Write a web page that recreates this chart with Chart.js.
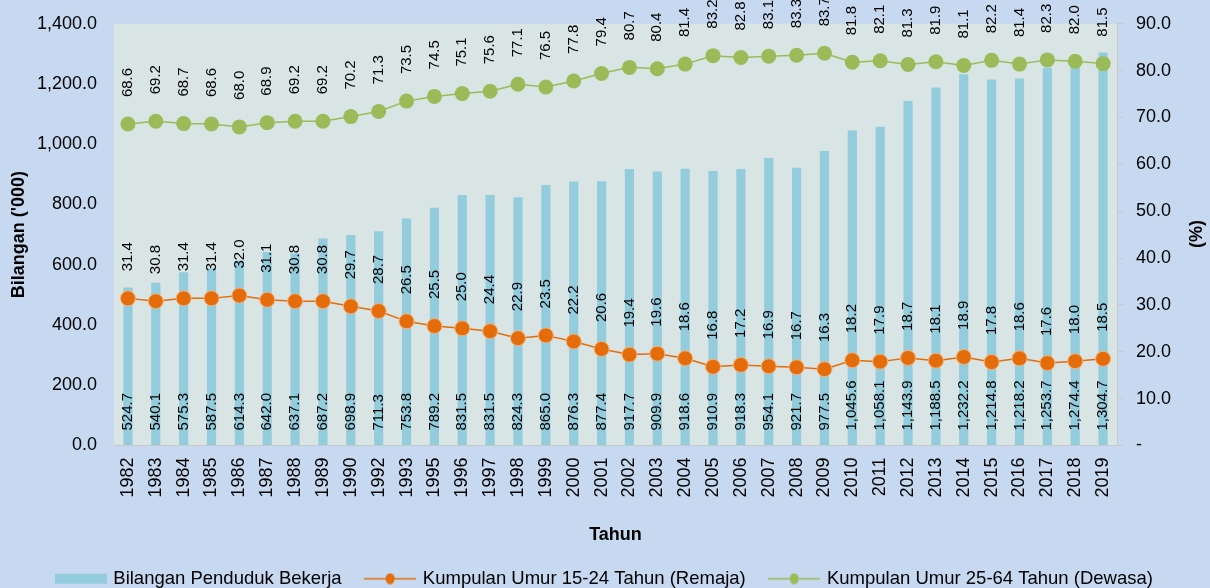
<!DOCTYPE html>
<html>
<head>
<meta charset="utf-8">
<script src="https://cdn.jsdelivr.net/npm/chart.js@4"></script>
<style>
  html, body { margin: 0; padding: 0; background: #C6D9F0; overflow: hidden; }
  #wrap { position: relative; width: 1210px; height: 600px; }
</style>
</head>
<body>
<div id="wrap"><canvas id="chart"></canvas></div>
<script>
// data
const years = ['1982','1983','1984','1985','1986','1987','1988','1989','1990','1992','1993','1995','1996','1997','1998','1999','2000','2001','2002','2003','2004','2005','2006','2007','2008','2009','2010','2011','2012','2013','2014','2015','2016','2017','2018','2019'];
const bekerja = [524.7,540.1,575.3,587.5,614.3,642.0,637.1,687.2,698.9,711.3,753.8,789.2,831.5,831.5,824.3,865.0,876.3,877.4,917.7,909.9,918.6,910.9,918.3,954.1,921.7,977.5,1045.6,1058.1,1143.9,1188.5,1232.2,1214.8,1218.2,1253.7,1274.4,1304.7];
const remaja = [31.4,30.8,31.4,31.4,32.0,31.1,30.8,30.8,29.7,28.7,26.5,25.5,25.0,24.4,22.9,23.5,22.2,20.6,19.4,19.6,18.6,16.8,17.2,16.9,16.7,16.3,18.2,17.9,18.7,18.1,18.9,17.8,18.6,17.6,18.0,18.5];
const dewasa = [68.6,69.2,68.7,68.6,68.0,68.9,69.2,69.2,70.2,71.3,73.5,74.5,75.1,75.6,77.1,76.5,77.8,79.4,80.7,80.4,81.4,83.2,82.8,83.1,83.3,83.7,81.8,82.1,81.3,81.9,81.1,82.2,81.4,82.3,82.0,81.5];

const FONT = "'Liberation Sans', Arial, sans-serif";
const BAR = '#93CDDD', ORANGE = '#E46C0A', GREEN = '#9BBB59';

const fmt1 = v => v.toLocaleString('en-US', {minimumFractionDigits: 1, maximumFractionDigits: 1});

// small legend symbols
function legendIcon(kind, color) {
  const c = document.createElement('canvas');
  c.width = 52; c.height = 12;
  const g = c.getContext('2d');
  if (kind === 'bar') {
    g.fillStyle = color;
    g.fillRect(0, 1, 52, 10);
  } else {
    g.strokeStyle = color; g.lineWidth = 1.5;
    g.beginPath(); g.moveTo(0, 6); g.lineTo(52, 6); g.stroke();
    g.fillStyle = color;
    g.beginPath(); g.ellipse(26, 6, 4.5, 5.5, 0, 0, Math.PI * 2); g.fill();
  }
  return c;
}
const icons = [legendIcon('bar', BAR), legendIcon('line', ORANGE), legendIcon('line', GREEN)];

// plot background
const plotBg = {
  id: 'plotBg',
  beforeDraw(chart) {
    const {ctx, chartArea: a} = chart;
    ctx.save();
    ctx.fillStyle = '#D8E5E4';
    ctx.fillRect(a.left, a.top, a.right - a.left, a.bottom - a.top);
    ctx.restore();
  }
};

// rotated value labels + right axis title
const valueLabels = {
  id: 'valueLabels',
  afterDatasetsDraw(chart) {
    const {ctx, chartArea: a} = chart;
    ctx.save();
    ctx.fillStyle = '#000';
    ctx.font = '15px ' + FONT;
    ctx.textAlign = 'left';
    ctx.textBaseline = 'middle';
    chart.data.datasets.forEach((ds, i) => {
      const meta = chart.getDatasetMeta(i);
      meta.data.forEach((el, j) => {
        let y;
        if (ds.type === 'bar') y = a.bottom - 15;
        else y = el.y - 27;
        ctx.save();
        ctx.translate(el.x, y);
        ctx.rotate(-Math.PI / 2);
        ctx.fillText(fmt1(ds.data[j]), 0, 0);
        ctx.restore();
      });
    });
    // (%) title
    ctx.font = 'bold 18px ' + FONT;
    ctx.textAlign = 'center';
    ctx.translate(1197, 234);
    ctx.rotate(-Math.PI / 2);
    ctx.fillText('(%)', 0, 0);
    ctx.restore();
  }
};

new Chart(document.getElementById('chart'), {
  data: {
    labels: years,
    datasets: [
      {
        type: 'bar',
        label: 'Bilangan Penduduk Bekerja',
        data: bekerja,
        backgroundColor: BAR,
        yAxisID: 'y',
        barPercentage: 0.33,
        categoryPercentage: 1,
        order: 2
      },
      {
        type: 'line',
        label: 'Kumpulan Umur 15-24 Tahun (Remaja)',
        data: remaja,
        borderColor: ORANGE,
        borderWidth: 1.5,
        backgroundColor: ORANGE,
        pointBackgroundColor: ORANGE,
        pointBorderColor: '#F7B27A',
        pointBorderWidth: 1,
        pointRadius: 7.5,
        yAxisID: 'y1',
        order: 1
      },
      {
        type: 'line',
        label: 'Kumpulan Umur 25-64 Tahun (Dewasa)',
        data: dewasa,
        borderColor: GREEN,
        borderWidth: 1.5,
        backgroundColor: GREEN,
        pointBackgroundColor: GREEN,
        pointBorderColor: GREEN,
        pointBorderWidth: 0,
        pointRadius: 7.5,
        yAxisID: 'y1',
        order: 1
      }
    ]
  },
  options: {
    responsive: true,
    maintainAspectRatio: false,
    animation: false,
    layout: { padding: { top: 23, left: 0, right: 0, bottom: 2 } },
    plugins: {
      tooltip: { enabled: false },
      legend: {
        position: 'bottom',
        labels: {
          usePointStyle: true,
          pointStyleWidth: 47,
          boxHeight: 12,
          padding: 25,
          color: '#000',
          font: { family: FONT, size: 18.5 },
          sort: (a, b) => a.datasetIndex - b.datasetIndex,
          generateLabels(chart) {
            const items = Chart.defaults.plugins.legend.labels.generateLabels(chart);
            items.forEach(it => { it.pointStyle = icons[it.datasetIndex]; });
            return items;
          }
        }
      }
    },
    scales: {
      x: {
        grid: { display: false, drawTicks: false },
        border: { display: true, color: '#C8C8C8' },
        ticks: {
          autoSkip: false, minRotation: 90, maxRotation: 90, padding: 12,
          color: '#000', font: { family: FONT, size: 18 }
        },
        title: {
          display: true, text: 'Tahun', color: '#000',
          font: { family: FONT, size: 18, weight: 'bold', lineHeight: 1 },
          padding: { top: 0, bottom: 0 }
        },
        afterFit(s) { s.height = 99; }
      },
      y: {
        position: 'left',
        min: 0, max: 1400,
        grid: { display: true, drawOnChartArea: false, drawTicks: true, tickLength: 14, color: 'rgba(0,0,0,0)' },
        border: { display: false },
        ticks: {
          stepSize: 200, padding: 3, color: '#000',
          font: { family: FONT, size: 18 },
          callback: v => fmt1(v)
        },
        title: {
          display: true, text: "Bilangan ('000)", color: '#000',
          font: { family: FONT, size: 18, weight: 'bold' },
          padding: { top: 8, bottom: 0 }
        },
        afterFit(s) { s.width = 114; }
      },
      y1: {
        position: 'right',
        min: 0, max: 90,
        grid: { display: true, drawOnChartArea: false, drawTicks: true, tickLength: 6, color: '#C8C8C8' },
        border: { display: true, color: '#C8C8C8' },
        ticks: {
          stepSize: 10, padding: 13, color: '#000',
          font: { family: FONT, size: 18 },
          callback: v => v === 0 ? '-' : fmt1(v)
        },
        afterFit(s) { s.width = 93; }
      }
    }
  },
  plugins: [plotBg, valueLabels]
});
</script>
</body>
</html>
